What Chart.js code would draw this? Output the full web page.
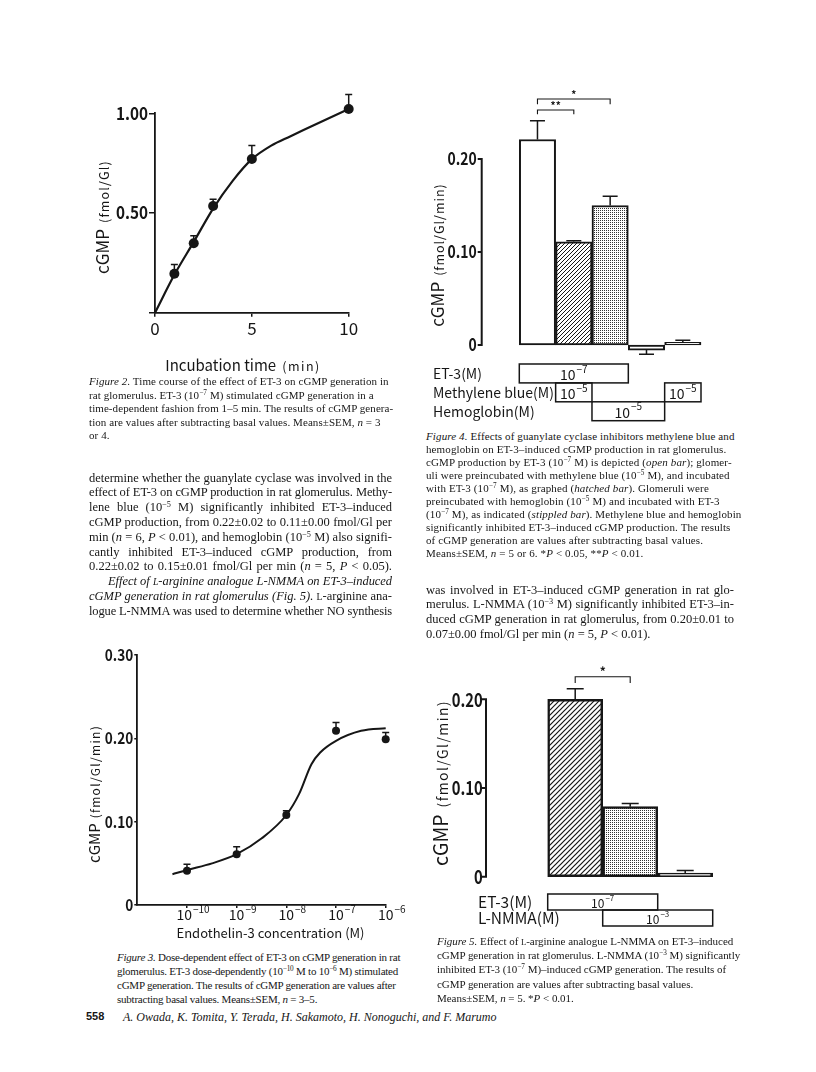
<!DOCTYPE html>
<html>
<head>
<meta charset="utf-8">
<title>ET-3 and cGMP in rat glomerulus</title>
<script src="https://cdn.jsdelivr.net/npm/chart.js@4.4.1/dist/chart.umd.min.js"></script>
<style>
  html, body { margin: 0; padding: 0; background: #fff; }
  #page { position: relative; width: 816px; height: 1072px; overflow: hidden; background: #fff; color: #161616; }
  #page canvas { position: absolute; }
  .ln { position: absolute; white-space: nowrap; font-family: "Liberation Serif", "Times New Roman", serif; }
  .ln.jl { white-space: normal; text-align: justify; text-align-last: justify; }
  .ln sup { font-size: 0.66em; vertical-align: 0.5em; line-height: 0; }
  .sc { font-size: 0.78em; }
  .folio { position: absolute; left: 86px; top: 1010px; font: bold 11px "Liberation Sans", Arial, sans-serif; }
</style>
</head>
<body>
<div id="page">
  <canvas id="fig2" width="340" height="300" style="left:60px;top:80px"></canvas>
  <canvas id="fig4" width="330" height="350" style="left:400px;top:80px"></canvas>
  <canvas id="fig3" width="340" height="320" style="left:80px;top:630px"></canvas>
  <canvas id="fig5" width="330" height="300" style="left:400px;top:640px"></canvas>
  <div class="folio">558</div>
</div>
<script>
// ── Data ─────────────────────────────────────────────────────
// Figure 2: time course
const fig2Time    = [1, 2, 3, 5, 10];
const fig2Cgmp    = [0.195, 0.348, 0.535, 0.771, 1.022];
const fig2Sem     = [0.047, 0.038, 0.034, 0.067, 0.072];
const fig2FitTime = [0, 1, 2, 3, 4, 5, 6, 7, 8, 9, 10];
const fig2FitCgmp = [0, 0.19, 0.355, 0.522, 0.66, 0.77, 0.838, 0.885, 0.931, 0.977, 1.022];

// Figure 3: dose response
const fig3Conc    = [1e-10, 1e-9, 1e-8, 1e-7, 1e-6];
const fig3Cgmp    = [0.041, 0.061, 0.108, 0.209, 0.199];
const fig3Sem     = [0.008, 0.009, 0.005, 0.010, 0.008];
const fig3FitConc = [5.1e-11, 1e-10, 3.2e-10, 1e-9, 3.2e-9, 1e-8, 1.8e-8, 3.2e-8, 4.8e-8, 1e-7, 3.2e-7, 1e-6, 1.9e-6];
const fig3FitCgmp = [0.037, 0.042, 0.050, 0.061, 0.080, 0.108, 0.133, 0.169, 0.183, 0.197, 0.209, 0.212, 0.213];
const fig3Ticks   = [1e-10, 1e-9, 1e-8, 1e-7, 1e-6];
const fig3TickExp = ['\u221210', '\u22129', '\u22128', '\u22127', '\u22126'];

// Figure 4: guanylate cyclase inhibitors
const fig4Groups = ['ET-3', 'MB + ET-3', 'Hb + ET-3', 'MB', 'Hb'];
const fig4Cgmp   = [0.221, 0.111, 0.150, -0.0055, 0.003];
const fig4Sem    = [0.020, 0.001, 0.010, 0.0045, 0.002];
const fig4Rows   = ['ET-3(M)', 'Methylene blue(M)', 'Hemoglobin(M)'];
const fig4Spans  = [[[0, 2, '\u22127']], [[1, 1, '\u22125'], [4, 4, '\u22125']], [[2, 3, '\u22125']]];

// Figure 5: L-NMMA
const fig5Groups = ['ET-3', 'ET-3 + L-NMMA', 'L-NMMA'];
const fig5Cgmp   = [0.200, 0.079, 0.004];
const fig5Sem    = [0.012, 0.0035, 0.003];
const fig5Rows   = ['ET-3(M)', 'L-NMMA(M)'];
const fig5Spans  = [[[0, 1, '\u22127']], [[1, 2, '\u22123']]];

// ── Look ─────────────────────────────────────────────────────
const INK = '#161616';
const GOTHIC = '"Noto Sans CJK JP", "DejaVu Sans", sans-serif';

Chart.defaults.font.family = GOTHIC;
Chart.defaults.color = INK;
Chart.defaults.animation = false;
Chart.defaults.plugins.legend.display = false;
Chart.defaults.plugins.tooltip.enabled = false;

function hatchPattern(step, width) {
    const c = document.createElement('canvas');
    c.width = c.height = step;
    const g = c.getContext('2d');
    g.fillStyle = '#fff';
    g.fillRect(0, 0, step, step);
    g.strokeStyle = INK;
    g.lineWidth = width;
    g.beginPath();
    g.moveTo(0, step); g.lineTo(step, 0);
    g.moveTo(-1, 1); g.lineTo(1, -1);
    g.moveTo(step - 1, step + 1); g.lineTo(step + 1, step - 1);
    g.stroke();
    return g.createPattern(c, 'repeat');
}

function stipplePattern() {
    const c = document.createElement('canvas');
    c.width = c.height = 2;
    const g = c.getContext('2d');
    g.fillStyle = '#fff';
    g.fillRect(0, 0, 2, 2);
    g.fillStyle = '#333';
    g.fillRect(0, 0, 1, 1);
    return g.createPattern(c, 'repeat');
}

// "10" with a raised exponent, centred on x
function drawPow(ctx, base, exp, x, y, size) {
    const es = Math.round(size * 0.68);
    ctx.save();
    ctx.fillStyle = INK;
    ctx.textAlign = 'left';
    ctx.textBaseline = 'middle';
    ctx.font = size + 'px ' + GOTHIC;
    const bw = ctx.measureText(base).width;
    ctx.font = es + 'px ' + GOTHIC;
    const ew = ctx.measureText(exp).width;
    const x0 = x - (bw + ew + 1) / 2;
    ctx.font = size + 'px ' + GOTHIC;
    ctx.fillText(base, x0, y);
    ctx.font = es + 'px ' + GOTHIC;
    ctx.fillText(exp, x0 + bw + 1, y - size * 0.4);
    ctx.restore();
}

// axis titles made of a big and a small part
function drawParts(ctx, parts, x, y, vertical) {
    ctx.save();
    ctx.translate(x, y);
    if (vertical) ctx.rotate(-Math.PI / 2);
    ctx.fillStyle = INK;
    ctx.textAlign = 'left';
    ctx.textBaseline = 'alphabetic';
    let total = 0;
    const widths = parts.map(p => {
        ctx.font = (p.weight || '') + ' ' + p.size + 'px ' + GOTHIC;
        ctx.letterSpacing = (p.ls || 0) + 'px';
        const w = ctx.measureText(p.text).width;
        total += w + (p.gap || 0);
        return w;
    });
    let cx = -total / 2;
    const base = parts[0].size * 0.36;
    parts.forEach((p, i) => {
        ctx.font = (p.weight || '') + ' ' + p.size + 'px ' + GOTHIC;
        ctx.letterSpacing = (p.ls || 0) + 'px';
        cx += p.gap || 0;
        ctx.fillText(p.text, cx, base);
        cx += widths[i];
    });
    ctx.restore();
}

// ── Plugins ──────────────────────────────────────────────────
const errorBarPlugin = {
    id: 'errorBars',
    afterDatasetsDraw(chart) {
        const ctx = chart.ctx;
        const ys = chart.scales.y;
        chart.data.datasets.forEach((ds, i) => {
            if (!ds.errorBars) return;
            const meta = chart.getDatasetMeta(i);
            meta.data.forEach((el, j) => {
                const d = ds.data[j];
                const v = typeof d === 'object' ? d.y : d;
                const e = ds.errorBars[j];
                const end = ys.getPixelForValue(v < 0 ? v - e : v + e);
                const half = (ds.errorCap || 8) / 2;
                ctx.save();
                ctx.strokeStyle = INK;
                ctx.lineWidth = ds.errorWidth || 1.5;
                ctx.beginPath();
                ctx.moveTo(el.x, el.y);
                ctx.lineTo(el.x, end);
                ctx.moveTo(el.x - half, end);
                ctx.lineTo(el.x + half, end);
                ctx.stroke();
                ctx.restore();
            });
        });
    }
};

// condensed, bold y tick labels right-aligned at chartArea.left - offset
function yTickLabels(offset, size, squeeze, fmt) {
    return {
        id: 'yTickLabels',
        afterDraw(chart) {
            const { ctx, chartArea, scales: { y } } = chart;
            y.ticks.forEach(t => {
                const text = fmt(t.value);
                if (!text) return;
                ctx.save();
                ctx.font = 'bold ' + size + 'px ' + GOTHIC;
                ctx.fillStyle = INK;
                ctx.textAlign = 'right';
                ctx.textBaseline = 'middle';
                ctx.translate(chartArea.left - offset, y.getPixelForValue(t.value));
                ctx.scale(squeeze, 1);
                ctx.fillText(text, 0, 0);
                ctx.restore();
            });
        }
    };
}

function detachedAxis(gap, tickLen) {
    return {
        id: 'detachedAxis',
        afterDraw(chart) {
            const { ctx, chartArea, scales: { y } } = chart;
            const x = chartArea.left - gap;
            ctx.save();
            ctx.strokeStyle = INK;
            ctx.lineWidth = 2;
            ctx.lineCap = 'square';
            ctx.beginPath();
            ctx.moveTo(x, y.getPixelForValue(y.min));
            ctx.lineTo(x, y.getPixelForValue(y.max));
            y.ticks.forEach(t => {
                const py = y.getPixelForValue(t.value);
                ctx.moveTo(x, py);
                ctx.lineTo(x - tickLen, py);
            });
            ctx.stroke();
            ctx.restore();
        }
    };
}

function sigBrackets(list, size) {
    return {
        id: 'sigBrackets',
        afterDraw(chart) {
            const { ctx, scales: { x, y } } = chart;
            ctx.save();
            ctx.strokeStyle = INK;
            ctx.fillStyle = INK;
            ctx.lineWidth = 1.1;
            list.forEach(b => {
                const x0 = x.getPixelForValue(b.from), x1 = x.getPixelForValue(b.to);
                const yy = y.getPixelForValue(b.at), yd = y.getPixelForValue(b.drop);
                ctx.beginPath();
                ctx.moveTo(x0, yd); ctx.lineTo(x0, yy); ctx.lineTo(x1, yy); ctx.lineTo(x1, yd);
                ctx.stroke();
                ctx.font = 'bold ' + size + 'px ' + GOTHIC;
                ctx.textAlign = 'center';
                ctx.textBaseline = 'middle';
                ctx.fillText(b.label, (x0 + x1) / 2, yy - size * 0.45);
            });
            ctx.restore();
        }
    };
}

function treatmentRows(rows, spans, o) {
    return {
        id: 'treatments',
        afterDraw(chart) {
            const ctx = chart.ctx;
            const bars = chart.getDatasetMeta(0).data;
            const area = chart.chartArea;
            ctx.save();
            rows.forEach((name, r) => {
                const top = area.bottom + o.offset + r * o.rowH;
                ctx.font = o.labelSize + 'px ' + GOTHIC;
                ctx.fillStyle = INK;
                ctx.textAlign = 'left';
                ctx.textBaseline = 'middle';
                ctx.fillText(name, o.labelX, top + o.rowH / 2);
                spans[r].forEach(([a, b, exp]) => {
                    const x0 = bars[a].x - bars[a].width / 2;
                    const x1 = bars[b].x + bars[b].width / 2;
                    ctx.lineWidth = 1.5;
                    ctx.strokeStyle = INK;
                    ctx.strokeRect(x0, top, x1 - x0, o.rowH);
                    drawPow(ctx, '10', exp, (x0 + x1) / 2, top + o.rowH / 2 + 1, o.powSize);
                });
            });
            ctx.restore();
        }
    };
}

function decorate(fn) {
    return { id: 'decorate', afterDraw(chart) { fn(chart.ctx, chart); } };
}

const axisLine = { display: true, color: INK, width: 1.8 };
const tickMarks = len => ({ display: true, drawOnChartArea: false, drawTicks: true, tickLength: len, color: INK, lineWidth: 1.5 });
const yLabel = v => (v === 0 ? '0' : v.toFixed(2));

// ── Figure 2 ─────────────────────────────────────────────────
new Chart(document.getElementById('fig2'), {
    type: 'scatter',
    data: {
        datasets: [{
            data: fig2FitTime.map((t, i) => ({ x: t, y: fig2FitCgmp[i] })),
            showLine: true,
            borderColor: INK,
            borderWidth: 2.2,
            pointRadius: 0,
            cubicInterpolationMode: 'monotone',
            clip: false
        }, {
            data: fig2Time.map((t, i) => ({ x: t, y: fig2Cgmp[i] })),
            pointRadius: 5,
            pointBackgroundColor: INK,
            pointBorderWidth: 0,
            errorBars: fig2Sem,
            errorCap: 7,
            clip: false
        }]
    },
    options: {
        responsive: false,
        layout: { padding: { left: 0, top: 33.3, right: 51.3, bottom: 42.3 } },
        scales: {
            x: {
                type: 'linear', min: 0, max: 10,
                afterFit: s => { s.height = 25; },
                ticks: { stepSize: 5, padding: 2, font: { size: 17 } },
                grid: tickMarks(4),
                border: axisLine
            },
            y: {
                min: 0, max: 1,
                afterFit: s => { s.width = 95; },
                ticks: { stepSize: 0.5, display: false },
                grid: tickMarks(6),
                border: axisLine
            }
        }
    },
    plugins: [
        errorBarPlugin,
        yTickLabels(7, 17, 0.9, v => (v === 0 ? '' : v.toFixed(2))),
        decorate(ctx => {
            drawParts(ctx, [{ text: 'cGMP', size: 17 }, { text: '(fmol/Gl)', size: 12.5, ls: 1.2, gap: 6 }], 43, 137, true);
            drawParts(ctx, [{ text: 'Incubation time', size: 15 }, { text: '(min)', size: 12.5, ls: 1.5, gap: 6 }], 183, 286, false);
        })
    ]
});

// ── Figure 3 ─────────────────────────────────────────────────
new Chart(document.getElementById('fig3'), {
    type: 'scatter',
    data: {
        datasets: [{
            data: fig3FitConc.map((c, i) => ({ x: c, y: fig3FitCgmp[i] })),
            showLine: true,
            borderColor: INK,
            borderWidth: 2,
            pointRadius: 0,
            cubicInterpolationMode: 'monotone',
            clip: false
        }, {
            data: fig3Conc.map((c, i) => ({ x: c, y: fig3Cgmp[i] })),
            pointRadius: 4,
            pointBackgroundColor: INK,
            pointBorderWidth: 0,
            errorBars: fig3Sem,
            errorCap: 7,
            clip: false
        }]
    },
    options: {
        responsive: false,
        layout: { padding: { left: 0, top: 25, right: 34.3, bottom: 25 } },
        scales: {
            x: {
                type: 'logarithmic', min: 1e-11, max: 1e-6,
                afterBuildTicks: s => { s.ticks = fig3Ticks.map(v => ({ value: v })); },
                afterFit: s => { s.height = 20; },
                ticks: { display: false },
                grid: tickMarks(3),
                border: axisLine
            },
            y: {
                min: 0, max: 0.3,
                afterFit: s => { s.width = 57.3; },
                ticks: { stepSize: 0.1, display: false },
                grid: tickMarks(3),
                border: axisLine
            }
        }
    },
    plugins: [
        errorBarPlugin,
        yTickLabels(4, 16, 0.85, yLabel),
        decorate((ctx, chart) => {
            const xs = chart.scales.x;
            xs.ticks.forEach((t, i) => drawPow(ctx, '10', fig3TickExp[i], xs.getPixelForValue(t.value) + 6, 285, 14));
            drawParts(ctx, [{ text: 'cGMP', size: 15 }, { text: '(fmol/Gl/min)', size: 12, ls: 1.3, gap: 5 }], 15, 164, true);
            drawParts(ctx, [{ text: 'Endothelin-3 concentration (M)', size: 13 }], 190.5, 303, false);
        })
    ]
});

// ── Figure 4 ─────────────────────────────────────────────────
const hatch4 = hatchPattern(4, 1);
const stipple = stipplePattern();

new Chart(document.getElementById('fig4'), {
    type: 'bar',
    data: {
        labels: fig4Groups,
        datasets: [{
            data: fig4Cgmp,
            backgroundColor: ['#fff', hatch4, stipple, '#fff', stipple],
            borderColor: INK,
            borderWidth: 2,
            borderSkipped: false,
            barPercentage: 1,
            categoryPercentage: 1,
            errorBars: fig4Sem,
            errorCap: 15,
            clip: false
        }]
    },
    options: {
        responsive: false,
        layout: { padding: { left: 0, top: 79, right: 29, bottom: 85 } },
        scales: {
            x: { display: false },
            y: {
                min: 0, max: 0.2,
                afterFit: s => { s.width = 119.3; },
                ticks: { stepSize: 0.1, display: false },
                grid: { display: false, drawTicks: false },
                border: { display: false }
            }
        }
    },
    plugins: [
        errorBarPlugin,
        detachedAxis(37.6, 3),
        yTickLabels(42.6, 17, 0.82, yLabel),
        sigBrackets([
            { from: 0, to: 2, at: 0.2645, drop: 0.259, label: '*' },
            { from: 0, to: 1, at: 0.2527, drop: 0.248, label: '**' }
        ], 10),
        treatmentRows(fig4Rows, fig4Spans, { offset: 19, rowH: 18.9, labelX: 33, labelSize: 14, powSize: 14 }),
        decorate(ctx => {
            drawParts(ctx, [{ text: 'cGMP', size: 17 }, { text: '(fmol/Gl/min)', size: 12.5, ls: 1, gap: 6 }], 38, 175, true);
        })
    ]
});

// ── Figure 5 ─────────────────────────────────────────────────
const hatch5 = hatchPattern(5, 1.2);

new Chart(document.getElementById('fig5'), {
    type: 'bar',
    data: {
        labels: fig5Groups,
        datasets: [{
            data: fig5Cgmp,
            backgroundColor: [hatch5, stipple, '#fff'],
            borderColor: INK,
            borderWidth: 2.5,
            borderSkipped: false,
            barPercentage: 1,
            categoryPercentage: 1,
            errorBars: fig5Sem,
            errorCap: 17,
            clip: false
        }]
    },
    options: {
        responsive: false,
        layout: { padding: { left: 0, top: 59.3, right: 17.3, bottom: 63.3 } },
        scales: {
            x: { display: false },
            y: {
                min: 0, max: 0.2,
                afterFit: s => { s.width = 147.7; },
                ticks: { stepSize: 0.1, display: false },
                grid: { display: false, drawTicks: false },
                border: { display: false }
            }
        }
    },
    plugins: [
        errorBarPlugin,
        detachedAxis(61.7, 4),
        yTickLabels(65, 19, 0.78, yLabel),
        sigBrackets([{ from: 0, to: 1, at: 0.2255, drop: 0.2184, label: '*' }], 12),
        treatmentRows(fig5Rows, fig5Spans, { offset: 17.3, rowH: 16, labelX: 78, labelSize: 15.5, powSize: 12 }),
        decorate(ctx => {
            drawParts(ctx, [{ text: 'cGMP', size: 19.5 }, { text: '(fmol/Gl/min)', size: 14, ls: 1.4, gap: 7 }], 41, 143, true);
        })
    ]
});

// ── Page text ────────────────────────────────────────────────
function textBlock(o) {
    const page = document.getElementById('page');
    const items = o.lines.map((raw, i) => {
        let html = raw, just = !!o.justify, indent = 0;
        if (html.endsWith('\u00b6')) { html = html.slice(0, -1); just = false; }
        if (html.startsWith('\u00bb')) { html = html.slice(1); indent = 19; }
        const d = document.createElement('div');
        d.className = 'ln';
        d.style.left = o.x + 'px';
        d.style.top = (o.y - o.lead / 2 + i * o.lead) + 'px';
        d.style.fontSize = o.size + 'px';
        d.style.lineHeight = o.lead + 'px';
        if (indent) d.style.textIndent = indent + 'px';
        if (o.italic) d.style.fontStyle = 'italic';
        d.innerHTML = html;
        page.appendChild(d);
        return { d, just };
    });
    if (o.fitFirst) {
        const d0 = items[0].d;
        const ls = (o.w - d0.offsetWidth) / d0.textContent.length;
        items.forEach(({ d }) => { d.style.letterSpacing = ls + 'px'; });
    }
    items.forEach(({ d, just }) => {
        if (!just) return;
        const nat = d.offsetWidth;
        if (nat > o.w - 1) d.style.letterSpacing = ((o.w - 1 - nat) / d.textContent.length) + 'px';
        d.style.width = o.w + 'px';
        d.classList.add('jl');
    });
}

textBlock({ x: 89, y: 382, w: 300, size: 11, lead: 13.5, fitFirst: true, lines: [
    '<i>Figure 2.</i> Time course of the effect of ET-3 on cGMP generation in',
    'rat glomerulus. ET-3 (10<sup>\u22127</sup> M) stimulated cGMP generation in a',
    'time-dependent fashion from 1\u20135 min. The results of cGMP genera-',
    'tion are values after subtracting basal values. Means\u00b1SEM, <i>n</i> = 3',
    'or 4.'
]});

textBlock({ x: 89, y: 478, w: 303, size: 12.5, lead: 14.8, justify: true, lines: [
    'determine whether the guanylate cyclase was involved in the',
    'effect of ET-3 on cGMP production in rat glomerulus. Methy-',
    'lene blue (10<sup>\u22125</sup> M) significantly inhibited ET-3\u2013induced',
    'cGMP production, from 0.22\u00b10.02 to 0.11\u00b10.00 fmol/Gl per',
    'min (<i>n</i> = 6, <i>P</i> &lt; 0.01), and hemoglobin (10<sup>\u22125</sup> M) also signifi-',
    'cantly inhibited ET-3\u2013induced cGMP production, from',
    '0.22\u00b10.02 to 0.15\u00b10.01 fmol/Gl per min (<i>n</i> = 5, <i>P</i> &lt; 0.05).',
    '\u00bb<i>Effect of <span class="sc">L</span>-arginine analogue L-NMMA on ET-3\u2013induced</i>',
    '<i>cGMP generation in rat glomerulus (Fig. 5).</i> <span class="sc">L</span>-arginine ana-',
    'logue L-NMMA was used to determine whether NO synthesis'
]});

textBlock({ x: 426, y: 436.5, w: 309, size: 11, lead: 13, fitFirst: true, lines: [
    '<i>Figure 4.</i> Effects of guanylate cyclase inhibitors methylene blue and',
    'hemoglobin on ET-3\u2013induced cGMP production in rat glomerulus.',
    'cGMP production by ET-3 (10<sup>\u22127</sup> M) is depicted (<i>open bar</i>); glomer-',
    'uli were preincubated with methylene blue (10<sup>\u22125</sup> M), and incubated',
    'with ET-3 (10<sup>\u22127</sup> M), as graphed (<i>hatched bar</i>). Glomeruli were',
    'preincubated with hemoglobin (10<sup>\u22125</sup> M) and incubated with ET-3',
    '(10<sup>\u22127</sup> M), as indicated (<i>stippled bar</i>). Methylene blue and hemoglobin',
    'significantly inhibited ET-3\u2013induced cGMP production. The results',
    'of cGMP generation are values after subtracting basal values.',
    'Means\u00b1SEM, <i>n</i> = 5 or 6. *<i>P</i> &lt; 0.05, **<i>P</i> &lt; 0.01.'
]});

textBlock({ x: 426, y: 590, w: 308, size: 12.5, lead: 14.8, justify: true, lines: [
    'was involved in ET-3\u2013induced cGMP generation in rat glo-',
    'merulus. L-NMMA (10<sup>\u22123</sup> M) significantly inhibited ET-3\u2013in-',
    'duced cGMP generation in rat glomerulus, from 0.20\u00b10.01 to',
    '0.07\u00b10.00 fmol/Gl per min (<i>n</i> = 5, <i>P</i> &lt; 0.01).\u00b6'
]});

textBlock({ x: 117, y: 957, w: 283, size: 11, lead: 14, fitFirst: true, lines: [
    '<i>Figure 3.</i> Dose-dependent effect of ET-3 on cGMP generation in rat',
    'glomerulus. ET-3 dose-dependently (10<sup>\u221210</sup> M to 10<sup>\u22126</sup> M) stimulated',
    'cGMP generation. The results of cGMP generation are values after',
    'subtracting basal values. Means\u00b1SEM, <i>n</i> = 3\u20135.'
]});

textBlock({ x: 437, y: 941, w: 296, size: 11, lead: 14.2, fitFirst: true, lines: [
    '<i>Figure 5.</i> Effect of <span class="sc">L</span>-arginine analogue L-NMMA on ET-3\u2013induced',
    'cGMP generation in rat glomerulus. L-NMMA (10<sup>\u22123</sup> M) significantly',
    'inhibited ET-3 (10<sup>\u22127</sup> M)\u2013induced cGMP generation. The results of',
    'cGMP generation are values after subtracting basal values.',
    'Means\u00b1SEM, <i>n</i> = 5. *<i>P</i> &lt; 0.01.'
]});

textBlock({ x: 123, y: 1017, w: 362, size: 12, lead: 14, italic: true, lines: [
    'A. Owada, K. Tomita, Y. Terada, H. Sakamoto, H. Nonoguchi, and F. Marumo'
]});
</script>
</body>
</html>
